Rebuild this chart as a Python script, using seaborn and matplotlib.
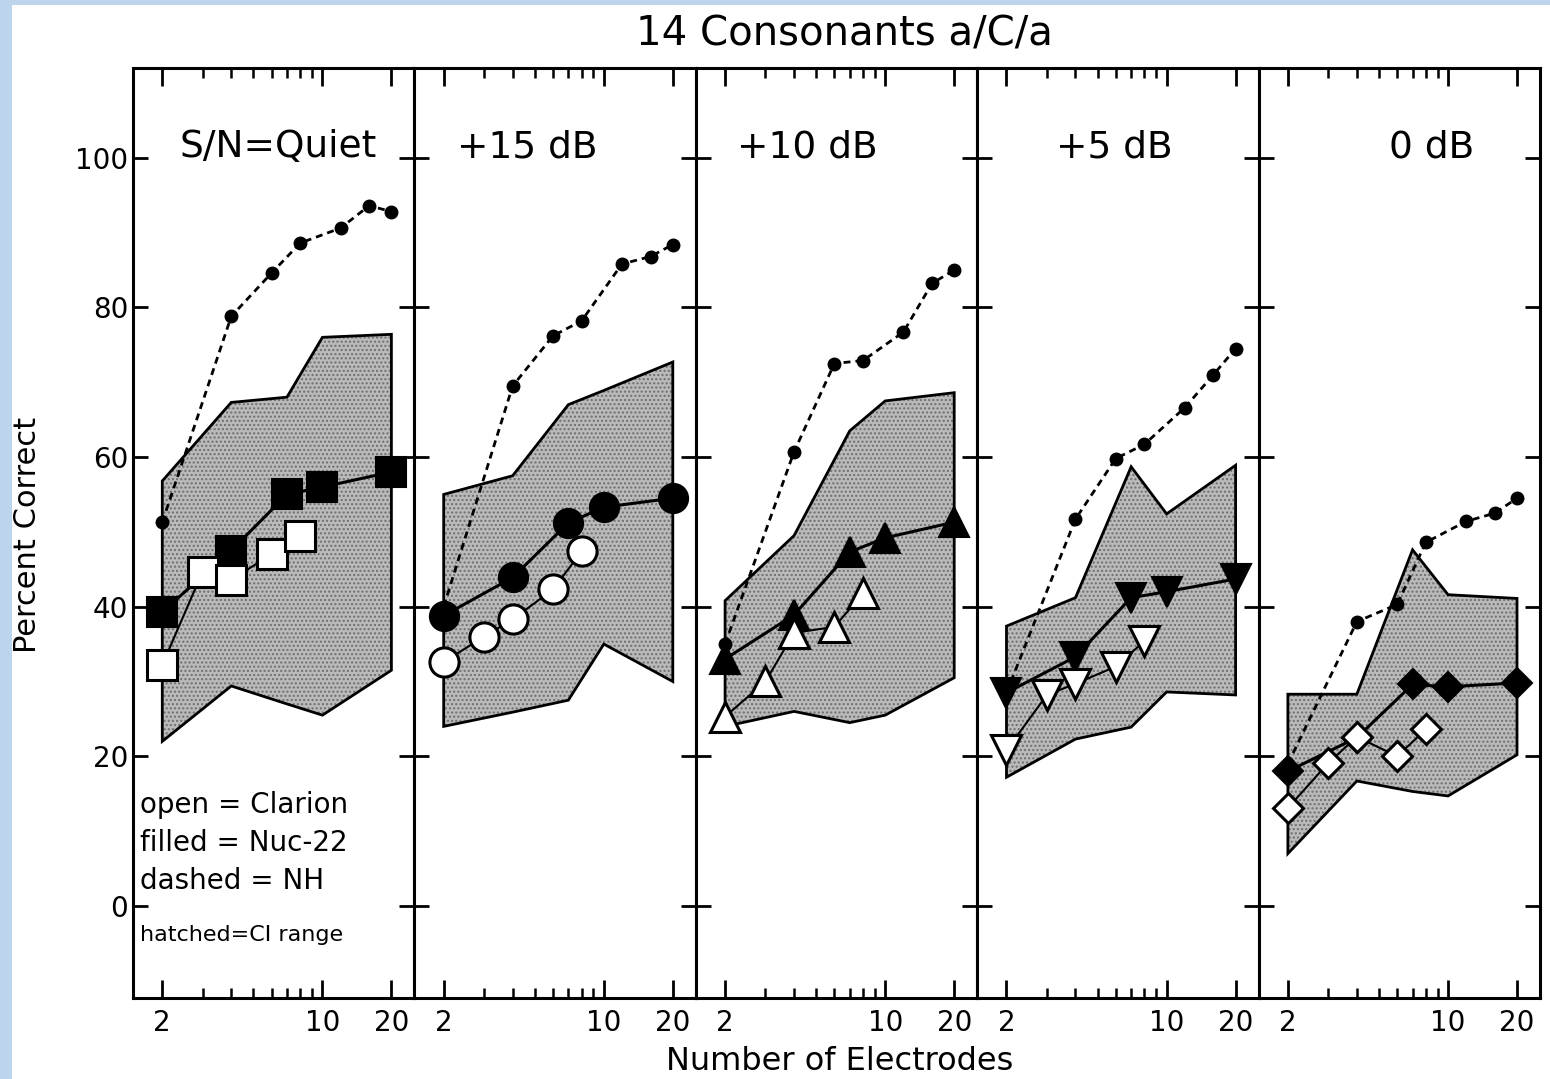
import numpy as np
import matplotlib
matplotlib.use("Agg")
import matplotlib.pyplot as plt
from matplotlib.patches import Rectangle
from matplotlib.ticker import FixedLocator, NullFormatter, FixedFormatter
import seaborn as sns

# ---------- DATA ----------
panels = ["S/N=Quiet", "+15 dB", "+10 dB", "+5 dB", "0 dB"]
markers = ["s", "o", "^", "v", "D"]

nh_n = [2, 4, 6, 8, 12, 16, 20]        # normal hearing, dashed
nuc_n = [2, 4, 7, 10, 20]              # Nucleus-22, filled
cla_n = [2, 3, 4, 6, 8]                # Clarion, open
band_n = [2, 4, 7, 10, 20]             # CI range, hatched

nh_quiet = [51.3, 78.8, 84.6, 88.6, 90.6, 93.6, 92.8]
nh_15 = [40.0, 69.5, 76.2, 78.2, 85.8, 86.8, 88.4]
nh_10 = [35.0, 60.7, 72.5, 72.9, 76.7, 83.2, 85.0]
nh_5 = [28.5, 51.7, 59.8, 61.7, 66.6, 71.0, 74.5]
nh_0 = [19.0, 38.0, 40.3, 48.6, 51.4, 52.5, 54.5]

nuc_quiet = [39.3, 47.5, 55.0, 56.0, 58.0]
nuc_15 = [38.8, 43.9, 51.2, 53.3, 54.5]
nuc_10 = [33.0, 38.9, 47.3, 49.2, 51.3]
nuc_5 = [28.5, 33.3, 41.2, 42.0, 43.7]
nuc_0 = [18.0, 22.5, 29.6, 29.3, 29.8]

cla_quiet = [32.2, 44.7, 43.6, 47.0, 49.4]
cla_15 = [32.6, 36.0, 38.3, 42.3, 47.4]
cla_10 = [25.3, 30.0, 36.5, 37.3, 41.8]
cla_5 = [20.8, 28.2, 29.7, 32.0, 35.4]
cla_0 = [13.1, 19.1, 22.6, 20.0, 23.6]

band_hi_quiet = [56.8, 67.3, 68.0, 76.0, 76.4]
band_lo_quiet = [22.0, 29.4, 27.0, 25.5, 31.5]
band_hi_15 = [55.0, 57.5, 67.0, 68.9, 72.7]
band_lo_15 = [24.0, 25.9, 27.5, 35.0, 30.0]
band_hi_10 = [40.8, 49.5, 63.5, 67.5, 68.6]
band_lo_10 = [24.0, 26.0, 24.5, 25.5, 30.5]
band_hi_5 = [37.4, 41.2, 58.7, 52.4, 58.9]
band_lo_5 = [17.2, 22.3, 23.9, 28.6, 28.2]
band_hi_0 = [28.3, 28.3, 47.6, 41.6, 41.1]
band_lo_0 = [7.0, 16.7, 15.3, 14.7, 20.2]

nh_all = [nh_quiet, nh_15, nh_10, nh_5, nh_0]
nuc_all = [nuc_quiet, nuc_15, nuc_10, nuc_5, nuc_0]
cla_all = [cla_quiet, cla_15, cla_10, cla_5, cla_0]
hi_all = [band_hi_quiet, band_hi_15, band_hi_10, band_hi_5, band_hi_0]
lo_all = [band_lo_quiet, band_lo_15, band_lo_10, band_lo_5, band_lo_0]

y_ticks = [0, 20, 40, 60, 80, 100]
x_major = [2, 10, 20]
x_minor = [3, 4, 5, 6, 7, 8, 9]

label_x = [0.515, 0.40, 0.395, 0.486, 0.615]

# ---------- PLOT ----------
sns.set_theme(style="white")
plt.rcParams["font.family"] = ["DejaVu Sans"]
plt.rcParams["text.color"] = "black"
plt.rcParams["xtick.color"] = "black"
plt.rcParams["ytick.color"] = "black"
plt.rcParams["axes.labelcolor"] = "black"

fig, axes = plt.subplots(1, 5, figsize=(15.5, 10.79), dpi=100, sharey=True)
fig.subplots_adjust(left=133 / 1550, right=1540 / 1550, bottom=0.0751, top=0.937, wspace=0)

for i, ax in enumerate(axes):
    ax.set_xscale("log")
    ax.set_xlim(1.49, 25.2)
    ax.set_ylim(-12.3, 112)

    # CI range band
    poly_x = list(band_n) + list(band_n[::-1])
    poly_y = list(hi_all[i]) + list(lo_all[i][::-1])
    ax.fill(poly_x, poly_y, facecolor="#bababa", hatch="....", edgecolor="#6e6e6e",
            linewidth=0, zorder=1)
    ax.fill(poly_x, poly_y, fill=False, edgecolor="black", linewidth=2.0, zorder=2)

    # normal hearing
    sns.lineplot(x=nh_n, y=nh_all[i], ax=ax, color="black", linewidth=2.0,
                 linestyle=(0, (2.5, 1.8)), marker="o", markersize=9,
                 markerfacecolor="black", markeredgecolor="black",
                 markeredgewidth=1, zorder=3)

    ms = 15 if markers[i] == "D" else 21
    # Nucleus-22 (filled)
    sns.lineplot(x=nuc_n, y=nuc_all[i], ax=ax, color="black", linewidth=2.2,
                 marker=markers[i], markersize=ms, markerfacecolor="black",
                 markeredgecolor="black", markeredgewidth=1.5, zorder=4)
    # Clarion (open)
    sns.lineplot(x=cla_n, y=cla_all[i], ax=ax, color="black", linewidth=1.5,
                 marker=markers[i], markersize=ms, markerfacecolor="white",
                 markeredgecolor="black", markeredgewidth=2.2, zorder=5)

    ax.set_xlabel("")
    ax.set_ylabel("")

    ax.xaxis.set_major_locator(FixedLocator(x_major))
    ax.xaxis.set_major_formatter(FixedFormatter([str(v) for v in x_major]))
    ax.xaxis.set_minor_locator(FixedLocator(x_minor))
    ax.xaxis.set_minor_formatter(NullFormatter())
    ax.set_yticks(y_ticks)

    ax.tick_params(axis="x", which="major", direction="in", length=13, width=2,
                   top=True, bottom=True, labelsize=20, pad=8)
    ax.tick_params(axis="x", which="minor", direction="in", length=7, width=1.8,
                   top=True, bottom=True)
    ax.tick_params(axis="y", which="major", direction="in", length=11, width=2,
                   left=True, right=True, labelsize=20, labelleft=(i == 0))

    for sp in ax.spines.values():
        sp.set_linewidth(2.2)
        sp.set_color("black")

    ax.text(label_x[i], 0.915, panels[i], transform=ax.transAxes, ha="center",
            va="center", fontsize=27, color="black")

# legend text inside first panel
ax0 = axes[0]
ax0.text(0.025, 0.2075, "open = Clarion", transform=ax0.transAxes, fontsize=20, va="center")
ax0.text(0.025, 0.1667, "filled = Nuc-22", transform=ax0.transAxes, fontsize=20, va="center")
ax0.text(0.025, 0.1258, "dashed = NH", transform=ax0.transAxes, fontsize=20, va="center")
ax0.text(0.025, 0.0677, "hatched=CI range", transform=ax0.transAxes, fontsize=16, va="center")

fig.text(0.545, 0.968, "14 Consonants a/C/a", ha="center", va="center", fontsize=29)
fig.text(0.018, 0.504, "Percent Correct", rotation=90, ha="center", va="center", fontsize=22)
fig.text(0.542, 0.016, "Number of Electrodes", ha="center", va="center", fontsize=23)

# light blue frame of the scanned page
fig.patches.append(Rectangle((0, 0), 12 / 1550, 1, transform=fig.transFigure,
                             facecolor="#bcd4ec", edgecolor="none", zorder=0))
fig.patches.append(Rectangle((0, 1 - 5 / 1079), 1, 5 / 1079, transform=fig.transFigure,
                             facecolor="#bcd4ec", edgecolor="none", zorder=0))

fig.savefig("out.png", dpi=100, facecolor="white")
